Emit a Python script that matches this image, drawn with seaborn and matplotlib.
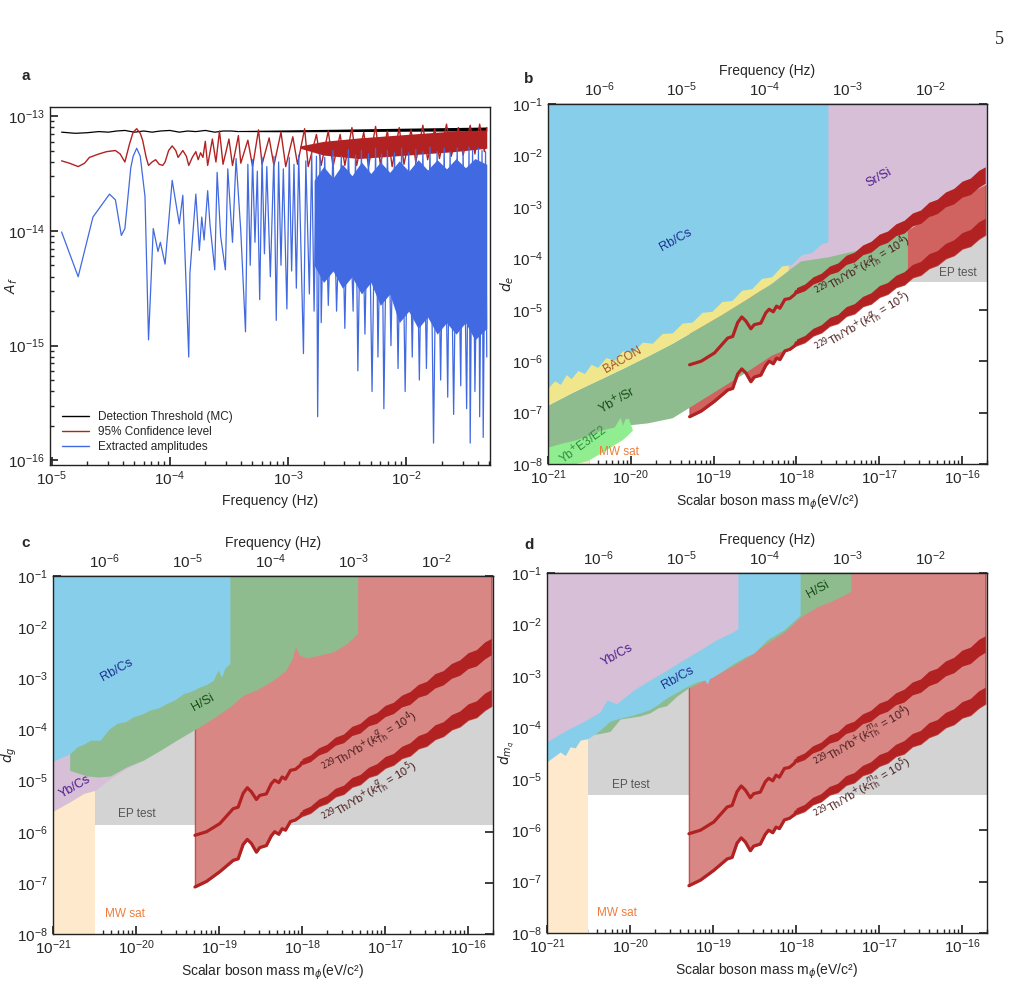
import numpy as np
import matplotlib
matplotlib.use("Agg")
import matplotlib.pyplot as plt
import seaborn as sns
from matplotlib.lines import Line2D
from matplotlib.ticker import LogLocator, NullFormatter

# all values below are log10 numbers

# ---------------- panel a : amplitude spectrum
thr_logf = [-4.915, -4.80, -4.70, -4.60, -4.52, -4.45, -4.38, -4.30, -4.22, -4.15,
            -4.08, -4.00, -3.92, -3.85, -3.78, -3.70, -3.62, -3.55, -3.48, -3.42]
thr_logA = [-13.14, -13.15, -13.145, -13.135, -13.14, -13.13, -13.125, -13.14, -13.13, -13.14,
            -13.13, -13.125, -13.14, -13.13, -13.135, -13.125, -13.14, -13.13, -13.13, -13.135]
thr_band_logf = [-3.42, -3.0, -2.5, -2.0, -1.5, -1.32]
thr_band_lo = [-13.135, -13.137, -13.135, -13.132, -13.13, -13.128]
thr_band_hi = [-13.125, -13.12, -13.113, -13.105, -13.098, -13.095]

cl_logf = [-4.915, -4.85, -4.775, -4.72, -4.68, -4.60, -4.535, -4.46, -4.42, -4.38,
           -4.34, -4.31, -4.28, -4.25, -4.23, -4.20, -4.18, -4.15, -4.12, -4.09,
           -4.06, -4.04, -4.01, -3.98, -3.95, -3.93, -3.91, -3.89, -3.86, -3.84,
           -3.81, -3.78, -3.76, -3.74, -3.72]
cl_logA = [-13.39, -13.41, -13.44, -13.41, -13.36, -13.33, -13.31, -13.30, -13.33, -13.40,
           -13.24, -13.14, -13.11, -13.15, -13.21, -13.36, -13.43, -13.40, -13.38, -13.42,
           -13.43, -13.40, -13.30, -13.26, -13.30, -13.36, -13.33, -13.30, -13.35, -13.43,
           -13.36, -13.31, -13.38, -13.32, -13.36]
cl_spike_logf = [-3.70, -3.68, -3.64, -3.61, -3.58, -3.55, -3.50, -3.47, -3.42, -3.40,
                 -3.34, -3.30, -3.25, -3.22, -3.16, -3.12, -3.06, -3.02, -2.96, -2.92,
                 -2.86, -2.83, -2.76, -2.72, -2.66, -2.62, -2.56, -2.52, -2.46, -2.42,
                 -2.36, -2.32, -2.26, -2.22, -2.16, -2.12, -2.06, -2.02, -1.96, -1.92,
                 -1.86, -1.82, -1.76, -1.72, -1.66, -1.62, -1.56, -1.52, -1.46, -1.42,
                 -1.38, -1.34, -1.32]
cl_spike_logA = [-13.22, -13.43, -13.20, -13.40, -13.13, -13.42, -13.20, -13.43, -13.17, -13.41,
                 -13.21, -13.44, -13.12, -13.42, -13.19, -13.43, -13.14, -13.44, -13.18, -13.42,
                 -13.11, -13.44, -13.16, -13.43, -13.13, -13.44, -13.16, -13.43, -13.10, -13.43,
                 -13.14, -13.44, -13.09, -13.42, -13.13, -13.44, -13.10, -13.42, -13.12, -13.40,
                 -13.08, -13.38, -13.11, -13.37, -13.07, -13.35, -13.10, -13.34, -13.08, -13.33,
                 -13.07, -13.31, -13.10]
cl_core_logf = [-2.90, -2.70, -2.40, -2.00, -1.60, -1.32]
cl_core_lo = [-13.28, -13.34, -13.37, -13.34, -13.31, -13.28]
cl_core_hi = [-13.26, -13.22, -13.19, -13.16, -13.13, -13.12]

amp_logf = [-4.915, -4.775, -4.65, -4.51, -4.46, -4.41, -4.38, -4.33, -4.31, -4.28,
            -4.25, -4.21, -4.18, -4.14, -4.10, -4.08, -4.04, -3.98, -3.92, -3.89,
            -3.84, -3.83, -3.78, -3.75, -3.73, -3.71, -3.68, -3.66, -3.62, -3.60,
            -3.57, -3.53, -3.51, -3.47, -3.44, -3.40, -3.36]
amp_logA = [-14.01, -14.40, -13.88, -13.68, -13.73, -14.04, -13.98, -13.45, -13.35, -13.28,
            -13.35, -13.70, -14.95, -13.98, -14.18, -14.10, -14.29, -13.56, -13.94, -13.69,
            -15.10, -14.37, -13.68, -14.17, -13.88, -14.08, -13.65, -13.95, -14.34, -13.49,
            -14.05, -14.34, -13.46, -14.10, -13.37, -14.00, -14.88]
amp_spike_logf = [-3.34, -3.32, -3.30, -3.28, -3.26, -3.24, -3.22, -3.20, -3.18, -3.15,
                  -3.12, -3.10, -3.08, -3.06, -3.04, -3.01, -2.99, -2.97, -2.95, -2.93,
                  -2.91, -2.87, -2.85, -2.82, -2.80, -2.78, -2.76, -2.75, -2.73, -2.72,
                  -2.69, -2.66, -2.62, -2.59, -2.55, -2.52, -2.49, -2.45, -2.43, -2.41,
                  -2.38, -2.35, -2.32, -2.29, -2.26, -2.24, -2.21, -2.19, -2.16, -2.13,
                  -2.10, -2.07, -2.04, -2.01, -1.98, -1.95, -1.92, -1.89, -1.86, -1.83,
                  -1.80, -1.77, -1.74, -1.71, -1.68, -1.65, -1.63, -1.60, -1.57, -1.54,
                  -1.52, -1.49, -1.47, -1.46, -1.44, -1.42, -1.39, -1.38, -1.36, -1.35,
                  -1.33, -1.32]
amp_spike_logA = [-13.42, -14.30, -13.38, -14.10, -13.48, -14.60, -13.36, -14.20, -13.44, -14.40,
                  -13.35, -14.78, -13.40, -14.30, -13.46, -14.68, -13.36, -14.35, -13.42, -14.50,
                  -13.34, -15.07, -13.39, -14.55, -13.33, -14.70, -13.35, -15.62, -13.33, -14.80,
                  -13.36, -14.65, -13.30, -14.70, -13.35, -14.85, -13.29, -14.70, -13.34, -15.22,
                  -13.30, -14.90, -13.33, -15.40, -13.28, -15.10, -13.33, -15.55, -13.30, -15.00,
                  -13.32, -15.20, -13.28, -15.40, -13.32, -15.10, -13.29, -15.30, -13.31, -15.20,
                  -13.27, -15.85, -13.31, -15.30, -13.28, -15.45, -13.31, -15.60, -13.28, -15.35,
                  -13.30, -15.55, -13.27, -15.85, -13.30, -15.40, -13.28, -15.62, -13.30, -15.80,
                  -13.31, -15.10]
amp_core_logf = [-2.78, -2.70, -2.62, -2.54, -2.46, -2.38, -2.30, -2.22, -2.14, -2.06,
                 -1.98, -1.90, -1.82, -1.74, -1.66, -1.58, -1.50, -1.42, -1.32]
amp_core_hi = [-13.56, -13.44, -13.54, -13.42, -13.52, -13.40, -13.50, -13.40, -13.49, -13.39,
               -13.48, -13.38, -13.47, -13.38, -13.46, -13.37, -13.45, -13.37, -13.42]
amp_core_lo = [-14.30, -14.45, -14.35, -14.50, -14.40, -14.55, -14.45, -14.65, -14.55, -14.80,
               -14.70, -14.85, -14.75, -14.90, -14.80, -14.90, -14.80, -14.95, -14.85]

# ---------------- 229Th/Yb+ projected limits (same in b, c, d)
thyb_line_logm = [-19.29, -19.15, -18.99, -18.83, -18.77, -18.71, -18.66, -18.61, -18.55, -18.51,
                  -18.43, -18.37, -18.33, -18.28, -18.24, -18.20, -18.14, -18.08, -18.02]
thyb4_line_logd = [-6.07, -6.00, -5.84, -5.55, -5.52, -5.25, -5.14, -5.22, -5.37, -5.29,
                   -5.26, -5.06, -4.99, -5.04, -4.93, -4.97, -4.80, -4.78, -4.70]
thyb5_line_logd = [-7.08, -6.97, -6.78, -6.56, -6.53, -6.25, -6.15, -6.23, -6.40, -6.31,
                   -6.27, -6.08, -6.00, -6.05, -5.94, -5.97, -5.80, -5.77, -5.70]
thyb_band_logm = [-18.0, -17.9, -17.8, -17.7, -17.6, -17.5, -17.4, -17.3, -17.2, -17.1,
                  -17.0, -16.9, -16.8, -16.7, -16.6, -16.5, -16.4, -16.3, -16.2, -16.1,
                  -16.0, -15.9, -15.8, -15.72]
thyb4_band_hi = [-4.57, -4.50, -4.36, -4.29, -4.15, -4.09, -3.94, -3.88, -3.74, -3.67,
                 -3.53, -3.47, -3.33, -3.26, -3.12, -3.06, -2.91, -2.85, -2.71, -2.64,
                 -2.50, -2.44, -2.29, -2.22]
thyb4_band_lo = [-4.69, -4.63, -4.50, -4.44, -4.31, -4.26, -4.12, -4.07, -3.93, -3.88,
                 -3.75, -3.69, -3.56, -3.51, -3.37, -3.32, -3.19, -3.13, -3.00, -2.94,
                 -2.81, -2.76, -2.62, -2.54]
thyb5_band_hi = [-5.57, -5.50, -5.36, -5.29, -5.15, -5.09, -4.94, -4.88, -4.74, -4.67,
                 -4.53, -4.47, -4.33, -4.26, -4.12, -4.06, -3.91, -3.85, -3.71, -3.64,
                 -3.50, -3.44, -3.29, -3.22]
thyb5_band_lo = [-5.69, -5.63, -5.50, -5.44, -5.31, -5.26, -5.12, -5.07, -4.93, -4.88,
                 -4.75, -4.69, -4.56, -4.51, -4.37, -4.32, -4.19, -4.13, -4.00, -3.94,
                 -3.81, -3.76, -3.62, -3.54]

# ---------------- panel b : d_e
b_ep_logm, b_ep_logd = [-16.63, -15.70], -4.46
b_mw_logm = [-20.62, -20.50]
b_srsi_logm = [-18.40, -17.62, -17.0, -16.66, -16.0, -15.70]
b_srsi_lo = [-4.60, -4.40, -3.75, -3.45, -2.80, -2.55]
b_rbcs_logm = [-21.00, -20.92, -20.85, -20.78, -20.72, -20.64, -20.56, -20.48, -20.40, -20.30,
               -20.20, -20.10, -19.98, -19.86, -19.74, -19.62, -19.50, -19.38, -19.26, -19.14,
               -19.02, -18.90, -18.78, -18.66, -18.54, -18.42, -18.30, -18.18, -18.06, -17.94,
               -17.82, -17.70, -17.62]
b_rbcs_lo = [-6.52, -6.38, -6.45, -6.26, -6.34, -6.18, -6.24, -6.06, -6.12, -5.93,
             -5.98, -5.80, -5.82, -5.63, -5.65, -5.46, -5.45, -5.26, -5.24, -5.05,
             -5.03, -4.84, -4.82, -4.62, -4.59, -4.39, -4.36, -4.15, -4.12, -3.93,
             -3.89, -3.72, -3.68]
b_bacon_logm = [-21.0, -20.7, -20.4, -20.1, -19.8, -19.5, -19.2, -18.9, -18.6, -18.3, -18.1]
b_bacon_lo = [-6.85, -6.60, -6.37, -6.14, -5.90, -5.65, -5.37, -5.09, -4.79, -4.48, -4.23]
b_ybsr_logm = [-21.0, -20.7, -20.4, -20.1, -19.8, -19.5, -19.2, -18.9, -18.6, -18.3,
               -18.1, -17.95, -17.62, -17.3, -17.0, -16.66]
b_ybsr_hi = [-6.85, -6.60, -6.37, -6.14, -5.90, -5.65, -5.37, -5.09, -4.79, -4.48,
             -4.23, -4.05, -3.97, -3.85, -3.72, -3.45]
b_ybsr_lo = [-7.70, -7.60, -7.43, -7.25, -7.20, -7.10, -6.80, -6.50, -6.20, -5.88,
             -5.75, -5.62, -5.25, -4.95, -4.66, -4.32]
b_e3e2_logm = [-21.0, -20.85, -20.69, -20.52, -20.36, -20.20, -20.13, -20.10, -20.07, -20.03, -19.98]
b_e3e2_hi = [-7.67, -7.60, -7.54, -7.45, -7.34, -7.28, -7.09, -7.25, -7.12, -7.11, -7.34]
b_e3e2_lo = [-8.0, -8.0, -8.0, -7.93, -7.78, -7.62, -7.55, -7.52, -7.48, -7.42, -7.34]

# ---------------- panel c : d_g
c_ep_logm, c_ep_logd = [-20.49, -15.70], -5.87
c_mw_logm = [-21.0, -20.49]
c_ybcs_logm = [-21.0, -20.80, -20.63, -20.49, -20.31, -20.11, -19.95]
c_ybcs_lo = [-5.60, -5.42, -5.25, -5.19, -4.96, -4.76, -4.62]
c_hsi_logm = [-20.80, -20.59, -20.45, -20.31, -20.11, -19.91, -19.71, -19.51, -19.27, -19.07,
              -18.87, -18.71, -18.55, -18.35, -18.20, -18.12, -18.08, -18.03, -17.94, -17.80,
              -17.62, -17.46, -17.33]
c_hsi_lo = [-4.80, -4.91, -4.93, -4.91, -4.73, -4.60, -4.41, -4.21, -3.98, -3.78,
            -3.56, -3.33, -3.23, -3.04, -2.85, -2.62, -2.38, -2.55, -2.60, -2.55,
            -2.48, -2.32, -2.12]
c_rbcs_logm = [-21.0, -20.90, -20.80, -20.71, -20.62, -20.55, -20.43, -20.33, -20.23, -20.13,
               -20.03, -19.93, -19.83, -19.73, -19.63, -19.53, -19.43, -19.33, -19.23, -19.15,
               -19.07, -19.03, -19.01, -18.97, -18.93, -18.87]
c_rbcs_lo = [-4.62, -4.55, -4.48, -4.34, -4.28, -4.21, -4.21, -4.00, -3.88, -3.85,
             -3.75, -3.70, -3.62, -3.58, -3.49, -3.42, -3.30, -3.25, -3.17, -3.12,
             -3.04, -2.90, -2.84, -2.98, -2.80, -2.71]

# ---------------- panel d : d_mq
d_ep_logm, d_ep_logd = [-20.51, -15.70], -5.32
d_mw_logm = [-21.0, -20.51]
d_hsi_logm = [-20.46, -20.36, -20.24, -20.12, -19.96, -19.88, -19.76, -19.66, -19.56, -19.44,
              -19.32, -19.0, -18.755, -18.55, -18.35, -18.15, -17.95, -17.75, -17.55, -17.34]
d_hsi_lo = [-4.14, -4.12, -4.08, -3.84, -3.80, -3.78, -3.72, -3.62, -3.58, -3.40,
            -3.26, -3.00, -2.80, -2.60, -2.36, -2.16, -1.86, -1.66, -1.53, -1.36]
d_rbcs_logm = [-21.0, -20.90, -20.84, -20.78, -20.72, -20.66, -20.60, -20.51, -20.44, -20.36,
               -20.24, -20.16, -20.06, -19.96, -19.86, -19.76, -19.66, -19.56, -19.44, -19.32,
               -19.20, -19.10, -19.07, -19.04, -19.00, -18.90, -18.755, -18.60, -18.51, -18.35,
               -18.15, -17.95]
d_rbcs_lo = [-4.67, -4.55, -4.48, -4.55, -4.38, -4.40, -4.25, -4.22, -4.15, -4.05,
             -3.88, -3.84, -3.80, -3.76, -3.71, -3.65, -3.55, -3.43, -3.32, -3.21,
             -3.12, -3.08, -3.16, -3.05, -3.02, -2.92, -2.76, -2.62, -2.56, -2.30,
             -2.11, -1.82]
d_ybcs_logm = [-21.0, -20.76, -20.56, -20.36, -20.28, -20.16, -19.96, -19.76, -19.56, -19.36,
               -19.16, -18.96, -18.755, -18.70]
d_ybcs_lo = [-4.28, -4.05, -3.89, -3.70, -3.47, -3.54, -3.28, -3.08, -2.89, -2.69,
             -2.50, -2.30, -2.14, -2.08]

# colours
SKY, THISTLE, SEAGREEN, KHAKI = "#87CEEB", "#D8BFD8", "#8FBC8F", "#F0E68C"
LGREEN, BISQUE, GREY, DARKRED = "#90EE90", "#FFE9CC", "#D3D3D3", "#B22222"
PINKRED, PINKRED_B = "#D98785", "#D0625F"
BLUE = "#4169E1"
TXT_TH = "#4a1c1c"

sns.set_theme(style="ticks", rc={
    "xtick.direction": "in", "ytick.direction": "in",
    "xtick.major.size": 6, "ytick.major.size": 6,
    "xtick.minor.size": 3, "ytick.minor.size": 3,
    "xtick.labelsize": 11, "ytick.labelsize": 11,
    "axes.labelsize": 10, "legend.fontsize": 8.5,
    "axes.linewidth": 1.0, "axes.edgecolor": "#222222",
})
plt.rcParams["font.family"] = ["Liberation Sans", "DejaVu Sans"]


def L(v):
    return np.power(10.0, np.asarray(v, dtype=float))


def region(ax, xs, lo, hi, color, **kw):
    xs = np.asarray(xs, dtype=float)
    lo = np.broadcast_to(np.asarray(lo, dtype=float), xs.shape)
    hi = np.broadcast_to(np.asarray(hi, dtype=float), xs.shape)
    kw.setdefault("lw", 0)
    ax.fill_between(L(xs), L(lo), L(hi), color=color, **kw)


def line(ax, xs, ys, color, lw, z=5):
    sns.lineplot(x=L(xs), y=L(ys), ax=ax, color=color, lw=lw, sort=False,
                 estimator=None, legend=False, zorder=z)


def label(ax, m, d, s, color, rot=0, size=8.5):
    ax.text(L(m), L(d), s, color=color, rotation=rot, rotation_mode="anchor",
            ha="center", va="center", fontsize=size, zorder=8)


def thyb(ax, light):
    # excluded region above the k=1e5 curve, then the two projected bands
    xs = thyb_line_logm + thyb_band_logm
    lo = thyb5_line_logd + thyb5_band_lo
    region(ax, xs, lo, 1.0, light, zorder=1.5, lw=1.0, edgecolor="#C4504E")
    region(ax, thyb_band_logm, thyb4_band_lo, thyb4_band_hi, DARKRED, zorder=6)
    region(ax, thyb_band_logm, thyb5_band_lo, thyb5_band_hi, DARKRED, zorder=6)
    line(ax, thyb_line_logm + [-18.0], thyb4_line_logd + [-4.64], DARKRED, 2.3, z=6)
    line(ax, thyb_line_logm + [-18.0], thyb5_line_logd + [-5.64], DARKRED, 2.3, z=6)


def th_labels(ax, sym, m, d4, d5):
    s = r"$^{229}$Th/Yb$^{+}$($k^{%s}_{\mathrm{Th}}$ = 10$^{%d}$)"
    label(ax, m, d4, s % (sym, 4), TXT_TH, rot=31, size=8)
    label(ax, m, d5, s % (sym, 5), TXT_TH, rot=31, size=8)


def m2f(m):
    return np.asarray(m) / 4.135667e-15


def f2m(f):
    return np.asarray(f) * 4.135667e-15


def style_mass_axis(ax, ylab, ylab_x):
    ax.set_xscale("log")
    ax.set_yscale("log")
    ax.set_xlim(1e-21, 2e-16)
    ax.set_ylim(1e-8, 1e-1)
    ax.yaxis.set_major_locator(LogLocator(base=10, numticks=12))
    ax.yaxis.set_minor_locator(LogLocator(base=10, subs=np.arange(2, 10), numticks=12))
    ax.yaxis.set_minor_formatter(NullFormatter())
    ax.xaxis.set_major_locator(LogLocator(base=10, numticks=12))
    ax.xaxis.set_minor_locator(LogLocator(base=10, subs=np.arange(2, 10), numticks=12))
    ax.xaxis.set_minor_formatter(NullFormatter())
    ax.tick_params(axis="y", which="major", right=True, left=True)
    ax.tick_params(axis="y", which="minor", right=False, left=True)
    ax.tick_params(axis="x", which="both", top=False, bottom=True)
    ax.set_xlabel("Scalar boson mass m$_{\\phi}$(eV/c²)")
    ax.set_ylabel(ylab)
    ax.yaxis.set_label_coords(ylab_x, 0.5)
    sec = ax.secondary_xaxis("top", functions=(m2f, f2m))
    sec.xaxis.set_minor_locator(LogLocator(base=10, subs=np.arange(2, 10), numticks=12))
    sec.xaxis.set_minor_formatter(NullFormatter())
    sec.tick_params(axis="x", which="both", direction="in")
    sec.set_xlabel("Frequency (Hz)")
    for sp in ax.spines.values():
        sp.set_zorder(10)


fig = plt.figure(figsize=(10.12, 9.89), dpi=100)
ax_a = fig.add_axes([0.0494, 0.5298, 0.4348, 0.362])
ax_b = fig.add_axes([0.5415, 0.5308, 0.4338, 0.364])
ax_c = fig.add_axes([0.0524, 0.0556, 0.4348, 0.362])
ax_d = fig.add_axes([0.5405, 0.0566, 0.4348, 0.364])

# ---- a
region(ax_a, amp_core_logf, amp_core_lo, amp_core_hi, BLUE, zorder=4)
line(ax_a, amp_logf + amp_spike_logf, amp_logA + amp_spike_logA, BLUE, 0.9, z=4)
region(ax_a, cl_core_logf, cl_core_lo, cl_core_hi, DARKRED, zorder=3)
line(ax_a, cl_logf + cl_spike_logf, cl_logA + cl_spike_logA, DARKRED, 1.0, z=3)
region(ax_a, thr_band_logf, thr_band_lo, thr_band_hi, "black", zorder=2)
line(ax_a, thr_logf, thr_logA, "black", 0.9, z=2)
ax_a.set_xscale("log")
ax_a.set_yscale("log")
ax_a.set_xlim(0.97e-5, 5.1e-2)
ax_a.set_ylim(9.1e-17, 1.2e-13)
ax_a.yaxis.set_minor_locator(LogLocator(base=10, subs=np.arange(2, 10), numticks=12))
ax_a.xaxis.set_minor_locator(LogLocator(base=10, subs=np.arange(2, 10), numticks=12))
ax_a.yaxis.set_minor_formatter(NullFormatter())
ax_a.xaxis.set_minor_formatter(NullFormatter())
ax_a.set_xlabel("Frequency (Hz)")
ax_a.set_ylabel(r"$A_f$")
ax_a.yaxis.set_label_coords(-0.068, 0.5)
handles = [Line2D([], [], color="black", lw=1.0),
           Line2D([], [], color=DARKRED, lw=1.0),
           Line2D([], [], color=BLUE, lw=1.0)]
ax_a.legend(handles, ["Detection Threshold (MC)", "95% Confidence level", "Extracted amplitudes"],
            loc="lower left", frameon=False, handlelength=2.3, labelspacing=0.25,
            borderaxespad=0.6)

# ---- b
style_mass_axis(ax_b, r"$d_e$", -0.073)
region(ax_b, b_mw_logm, -9, 1.0, BISQUE, zorder=1)
region(ax_b, b_ep_logm, b_ep_logd, 1.0, GREY, zorder=1)
thyb(ax_b, PINKRED_B)
region(ax_b, b_srsi_logm, b_srsi_lo, 1.0, THISTLE, zorder=2)
region(ax_b, b_ybsr_logm, b_ybsr_lo, b_ybsr_hi, SEAGREEN, zorder=2.2)
region(ax_b, b_bacon_logm, b_bacon_lo, 1.0, KHAKI, zorder=2.3)
region(ax_b, b_rbcs_logm, b_rbcs_lo, 1.0, SKY, zorder=2.4)
region(ax_b, b_e3e2_logm, b_e3e2_lo, b_e3e2_hi, LGREEN, zorder=2.5)
label(ax_b, -19.46, -3.65, "Rb/Cs", "#1c2f8f", rot=29, size=9)
label(ax_b, -17.01, -2.44, "Sr/Si", "#4b1a8a", rot=29, size=9)
label(ax_b, -20.10, -5.98, "BACON", "#a0522d", rot=30)
label(ax_b, -20.16, -6.76, r"Yb$^{+}$/Sr", "#134d13", rot=30, size=9)
label(ax_b, -20.57, -7.63, r"Yb$^{+}$E3/E2", "#2e8b3c", rot=36)
label(ax_b, -20.14, -7.77, "MW sat", "#ee7d3a")
label(ax_b, -16.05, -4.29, "EP test", "#555555")
th_labels(ax_b, r"\alpha", -17.20, -4.17, -5.26)

# ---- c
style_mass_axis(ax_c, r"$d_g$", -0.077)
region(ax_c, c_ep_logm, c_ep_logd, 1.0, GREY, zorder=1)
thyb(ax_c, PINKRED)
region(ax_c, c_mw_logm, -9, 1.0, BISQUE, zorder=2)
region(ax_c, c_ybcs_logm, c_ybcs_lo, 1.0, THISTLE, zorder=2.1)
region(ax_c, c_hsi_logm, c_hsi_lo, 1.0, SEAGREEN, zorder=2.2)
region(ax_c, c_rbcs_logm, c_rbcs_lo, 1.0, SKY, zorder=2.3)
label(ax_c, -20.23, -2.84, "Rb/Cs", "#1c2f8f", rot=29, size=9)
label(ax_c, -19.19, -3.47, "H/Si", "#134d13", rot=29, size=9)
label(ax_c, -20.73, -5.13, "Yb/Cs", "#4b1a8a", rot=30, size=9)
label(ax_c, -19.99, -5.66, "EP test", "#555555")
label(ax_c, -20.13, -7.61, "MW sat", "#ee7d3a")
th_labels(ax_c, "g", -17.18, -4.27, -5.25)

# ---- d
style_mass_axis(ax_d, r"$d_{m_q}$", -0.071)
region(ax_d, d_ep_logm, d_ep_logd, 1.0, GREY, zorder=1)
thyb(ax_d, PINKRED)
region(ax_d, d_mw_logm, -9, 1.0, BISQUE, zorder=2)
region(ax_d, d_hsi_logm, d_hsi_lo, 1.0, SEAGREEN, zorder=2.1)
region(ax_d, d_rbcs_logm, d_rbcs_lo, 1.0, SKY, zorder=2.2)
region(ax_d, d_ybcs_logm, d_ybcs_lo, 1.0, THISTLE, zorder=2.3)
label(ax_d, -20.16, -2.60, "Yb/Cs", "#4b1a8a", rot=29, size=9)
label(ax_d, -19.43, -3.04, "Rb/Cs", "#1c2f8f", rot=29, size=9)
label(ax_d, -17.73, -1.33, "H/Si", "#134d13", rot=29, size=9)
label(ax_d, -19.99, -5.12, "EP test", "#555555")
label(ax_d, -20.16, -7.61, "MW sat", "#ee7d3a")
th_labels(ax_d, "m_q", -17.19, -4.21, -5.22)

for x, y, s in [(0.0257, 0.923, "a"), (0.5227, 0.920, "b"),
                (0.0257, 0.451, "c"), (0.5227, 0.449, "d")]:
    fig.text(x, y, s, fontsize=11, fontweight="bold", ha="center", va="center")
fig.text(0.988, 0.960, "5", fontsize=13, family="Liberation Serif", ha="center", va="center")

fig.savefig("out.png", dpi=100)
